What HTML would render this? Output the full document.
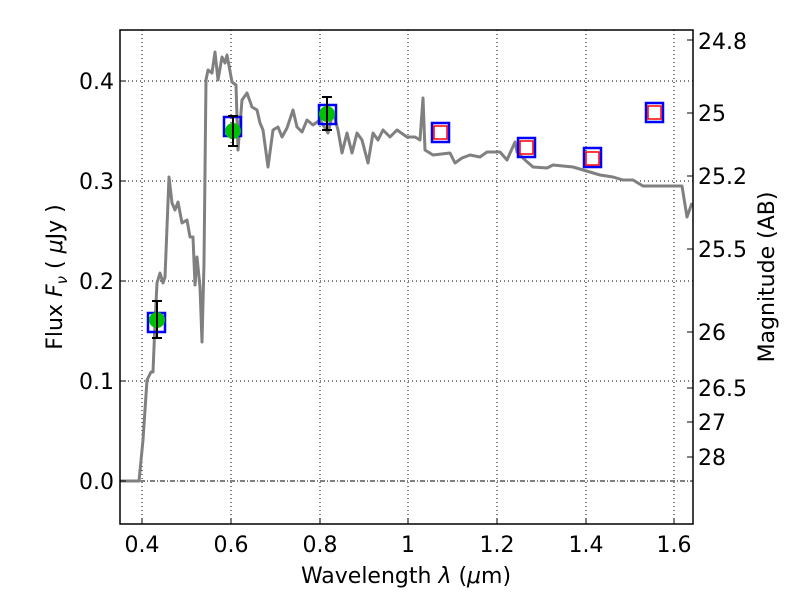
<!DOCTYPE html>
<html><head><style>body{margin:0;background:#fff}svg{display:block}text{font-family:"DejaVu Sans","Liberation Sans",sans-serif;font-size:22px;fill:#000}</style></head><body>
<svg width="800" height="600" xmlns="http://www.w3.org/2000/svg">
<rect width="800" height="600" fill="#fff"/>
<g stroke="#000" stroke-width="1" stroke-dasharray="1,3">
<line x1="142" y1="30" x2="142" y2="524"/><line x1="231" y1="30" x2="231" y2="524"/><line x1="320" y1="30" x2="320" y2="524"/><line x1="408" y1="30" x2="408" y2="524"/><line x1="497" y1="30" x2="497" y2="524"/><line x1="586" y1="30" x2="586" y2="524"/><line x1="674" y1="30" x2="674" y2="524"/>
<line x1="120" y1="81" x2="693" y2="81"/><line x1="120" y1="181" x2="693" y2="181"/><line x1="120" y1="281" x2="693" y2="281"/><line x1="120" y1="381" x2="693" y2="381"/>
</g>
<line x1="120" y1="481" x2="693" y2="481" stroke="#000" stroke-width="1" stroke-dasharray="5,2,1,2"/>
<polyline fill="none" stroke="#808080" stroke-width="3" stroke-linejoin="round" points="120,481 139,481 143,440 147,380 151,372 153,372 155,323 157,283 160,273 163,283 165,277 169,177 172,203 175,210 178,202 182,223 187,220 190,237 193,237 195,285 197,257 200,287 202,342 204,263 206,80 208,70 212,73 215,52 218,80 222,57 225,63 227,55 232,82 236,85 238,150 242,100 247,93 252,107 257,110 260,123 263,130 268,167 273,130 278,127 282,137 287,128 293,110 297,127 302,132 307,120 313,125 320,120 328,133 333,112 338,130 342,153 347,133 352,153 357,133 362,140 368,163 373,133 378,140 383,130 390,137 397,130 407,137 415,137 420,140 423,98 425,150 433,155 450,153 455,163 462,158 470,155 480,157 487,152 500,152 507,160 515,142 517,152 525,160 533,167 547,168 553,165 573,167 600,175 613,177 623,180 633,180 643,186 677,186 682,186 687,217 692,203"/>
<g fill="none" stroke="#0000ff" stroke-width="2.5">
<rect x="148" y="313" width="17" height="19"/><rect x="224" y="117" width="17" height="19"/><rect x="319" y="105" width="17" height="19"/><rect x="432" y="123" width="17" height="19"/><rect x="518" y="138" width="17" height="19"/><rect x="584" y="148" width="17" height="19"/><rect x="646" y="103" width="17" height="19"/>
</g>
<g fill="none" stroke="#ff0000" stroke-width="1.5">
<rect x="434" y="126" width="13" height="13"/><rect x="520" y="141" width="13" height="13"/><rect x="586" y="152" width="13" height="13"/><rect x="648" y="106" width="13" height="13"/>
</g>
<g fill="#00c000"><circle cx="157" cy="320" r="8"/><circle cx="233" cy="131" r="8"/><circle cx="327" cy="114" r="8"/></g>
<g stroke="#000" stroke-width="2">
<line x1="157" y1="301" x2="157" y2="338"/><line x1="152" y1="301" x2="162" y2="301"/><line x1="152" y1="338" x2="162" y2="338"/>
<line x1="233" y1="116" x2="233" y2="146"/><line x1="228" y1="116" x2="238" y2="116"/><line x1="228" y1="146" x2="238" y2="146"/>
<line x1="327" y1="97" x2="327" y2="130"/><line x1="322" y1="97" x2="332" y2="97"/><line x1="322" y1="130" x2="332" y2="130"/>
</g>
<rect x="120" y="30" width="573" height="494" fill="none" stroke="#000" stroke-width="1.5"/>
<g stroke="#000" stroke-width="1">
<line x1="142" y1="524" x2="142" y2="518"/><line x1="231" y1="524" x2="231" y2="518"/><line x1="320" y1="524" x2="320" y2="518"/><line x1="408" y1="524" x2="408" y2="518"/><line x1="497" y1="524" x2="497" y2="518"/><line x1="586" y1="524" x2="586" y2="518"/><line x1="674" y1="524" x2="674" y2="518"/>
<line x1="120" y1="81" x2="126" y2="81"/><line x1="120" y1="181" x2="126" y2="181"/><line x1="120" y1="281" x2="126" y2="281"/><line x1="120" y1="381" x2="126" y2="381"/><line x1="120" y1="481" x2="126" y2="481"/>
<line x1="687" y1="40" x2="693" y2="40"/><line x1="687" y1="113" x2="693" y2="113"/><line x1="687" y1="176" x2="693" y2="176"/><line x1="687" y1="249" x2="693" y2="249"/><line x1="687" y1="332" x2="693" y2="332"/><line x1="687" y1="388" x2="693" y2="388"/><line x1="687" y1="422" x2="693" y2="422"/><line x1="687" y1="457" x2="693" y2="457"/>
</g>
<g text-anchor="middle">
<text x="142" y="552">0.4</text><text x="231" y="552">0.6</text><text x="320" y="552">0.8</text><text x="408" y="552">1</text><text x="497" y="552">1.2</text><text x="586" y="552">1.4</text><text x="674" y="552">1.6</text>
</g>
<g text-anchor="end">
<text x="114" y="89">0.4</text><text x="114" y="189">0.3</text><text x="114" y="289">0.2</text><text x="114" y="389">0.1</text><text x="114" y="489">0.0</text>
</g>
<g>
<text x="698" y="49">24.8</text><text x="698" y="121">25</text><text x="698" y="184">25.2</text><text x="698" y="257">25.5</text><text x="698" y="340">26</text><text x="698" y="396">26.5</text><text x="698" y="430">27</text><text x="698" y="465">28</text>
</g>
<text x="406" y="583" text-anchor="middle">Wavelength  <tspan font-style="italic">λ</tspan> (<tspan font-style="italic">μ</tspan>m)</text>
<text transform="translate(62,277) rotate(-90)" text-anchor="middle">Flux  <tspan font-style="italic">F</tspan><tspan font-style="italic" font-size="15" dy="5">ν</tspan><tspan dy="-5">  ( </tspan><tspan font-style="italic">μ</tspan>Jy )</text>
<text transform="translate(774,277) rotate(-90)" text-anchor="middle">Magnitude (AB)</text>
</svg>
</body></html>
